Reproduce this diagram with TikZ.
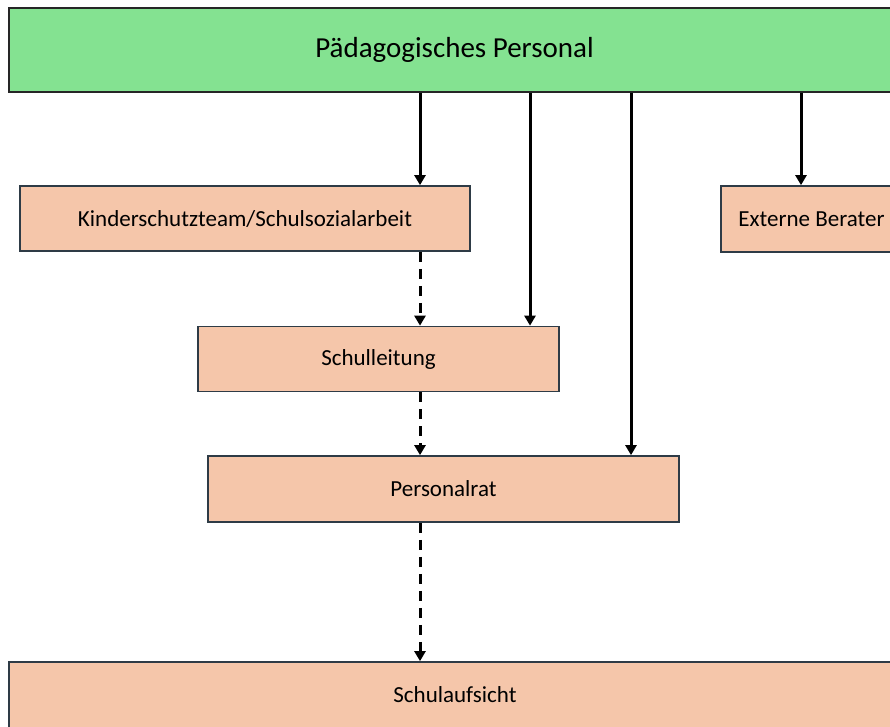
\documentclass[tikz,border=0pt]{standalone}
\usepackage{fontspec}
\setmainfont{Carlito}
\usetikzlibrary{arrows.meta}
\definecolor{hdgreen}{HTML}{84E291}
\definecolor{peach}{HTML}{F5C6AA}
\definecolor{edge}{HTML}{2E3B46}
\tikzset{
  box/.style={draw=edge, line width=1.7pt, fill=peach, rectangle, inner sep=0pt, font=\fontsize{23}{27}\selectfont, text=black},
  head/.style={draw=black!85, line width=1.7pt, fill=hdgreen, rectangle, inner sep=0pt, font=\fontsize{29}{34}\selectfont, text=black},
  arr/.style={line width=3pt, -{Triangle[width=11pt,length=10pt]}},
  darr/.style={arr, dash pattern=on 10pt off 7pt},
}
\begin{document}
\begin{tikzpicture}[x=1pt,y=-1pt]
\useasboundingbox (0,0) rectangle (890,726);
\node[head, minimum width=891pt, minimum height=84pt] (top) at (454.5,50) {Pädagogisches Personal};
\node[box, minimum width=450pt, minimum height=65pt] (k) at (245,218.5) {Kinderschutzteam/Schulsozialarbeit};
\node[box, minimum width=181pt, minimum height=66pt] (ext) at (811.5,219) {Externe Berater};
\node[box, minimum width=361pt, minimum height=65pt] (sl) at (378.5,359) {Schulleitung};
\node[box, minimum width=471pt, minimum height=66pt] (pr) at (443.5,489) {Personalrat};
\node[box, minimum width=892pt, minimum height=66pt] (sa) at (455,695) {Schulaufsicht};
\coordinate (xa) at (420,0);
\coordinate (xb) at (530,0);
\coordinate (xc) at (631,0);
\coordinate (xd) at (801,0);
\draw[arr] (top.south -| xa) -- (k.north -| xa);
\draw[arr] (top.south -| xb) -- (sl.north -| xb);
\draw[arr] (top.south -| xc) -- (pr.north -| xc);
\draw[arr] (top.south -| xd) -- (ext.north -| xd);
\draw[darr] (k.south -| xa) -- (sl.north -| xa);
\draw[darr] (sl.south -| xa) -- (pr.north -| xa);
\draw[darr] (pr.south -| xa) -- (sa.north -| xa);
\end{tikzpicture}
\end{document}
